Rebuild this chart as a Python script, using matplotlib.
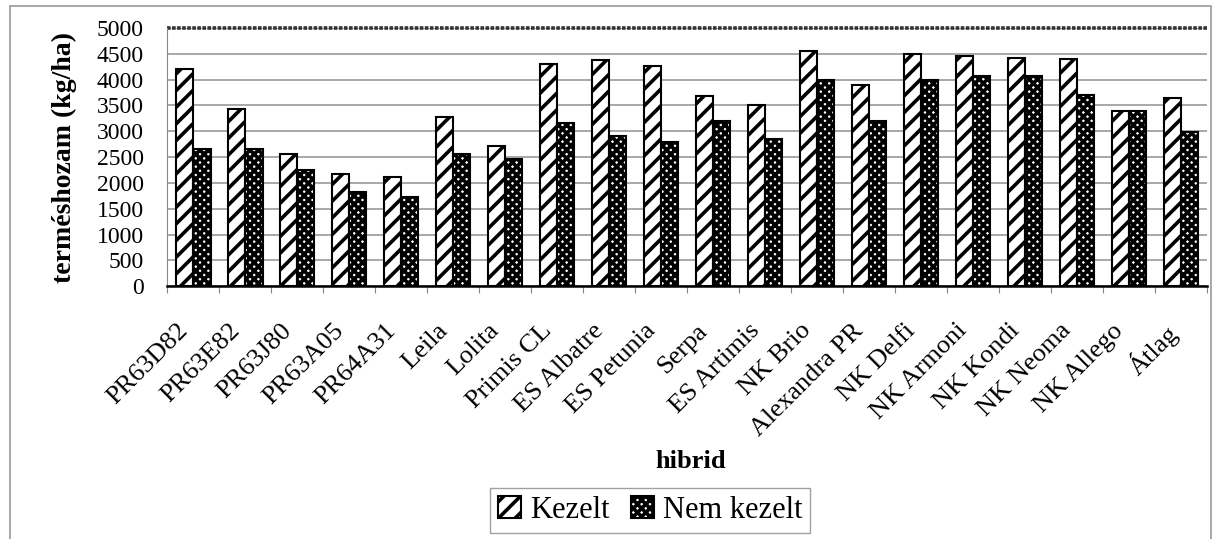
import numpy as np
import matplotlib.pyplot as plt
import matplotlib.transforms as mtransforms
from matplotlib.patches import Rectangle

plt.rcParams['font.family'] = ['Liberation Serif', 'DejaVu Serif']
plt.rcParams['hatch.linewidth'] = 2.6

# Adatok (leolvasva az ábráról)
hibridek = ['PR63D82', 'PR63E82', 'PR63J80', 'PR63A05', 'PR64A31', 'Leila', 'Lolita',
            'Primis CL', 'ES Albatre', 'ES Petunia', 'Serpa', 'ES Artimis', 'NK Brio',
            'Alexandra PR', 'NK Delfi', 'NK Armoni', 'NK Kondi', 'NK Neoma', 'NK Allego', 'Átlag']
kezelt = [4200, 3430, 2570, 2170, 2120, 3280, 2720, 4310, 4390, 4270,
          3680, 3500, 4560, 3890, 4490, 4460, 4410, 4400, 3400, 3650]
nem_kezelt = [2650, 2650, 2250, 1830, 1720, 2570, 2470, 3170, 2910, 2800,
              3200, 2860, 4000, 3190, 4000, 4070, 4070, 3700, 3400, 2990]
y_ticks = np.arange(0, 5001, 500)

fig = plt.figure(figsize=(12.13, 5.39), dpi=100)
ax = fig.add_axes([0.138, 0.469, 0.857, 0.479])

# keret az egész ábra körül
fig.patches.append(Rectangle((0.008, -0.01), 0.99, 0.999, transform=fig.transFigure,
                             fill=False, edgecolor='#999999', linewidth=1.2))

x = np.arange(len(hibridek))
w = 0.33
ax.bar(x - w / 2, kezelt, w, color='white', edgecolor='black', hatch='//',
       linewidth=1.5, label='Kezelt', zorder=3)
ax.bar(x + w / 2, nem_kezelt, w, color='white', edgecolor='black', hatch='xxxx',
       linewidth=1.5, label='Nem kezelt', zorder=3)

ax.set_xlim(-0.5, len(hibridek) - 0.5)
ax.set_ylim(0, 5000)
ax.set_yticks(y_ticks)
ax.tick_params(axis='y', labelsize=17, length=0, pad=17)
ax.set_xticks(x)
ax.set_xticklabels(hibridek, rotation=45, ha='right', rotation_mode='anchor', fontsize=19)
ax.tick_params(axis='x', which='major', length=0, pad=24)
offset = mtransforms.ScaledTranslation(-0.17, 0, fig.dpi_scale_trans)
for lbl in ax.get_xticklabels():
    lbl.set_transform(lbl.get_transform() + offset)
ax.set_xticks(np.arange(-0.5, len(hibridek)), minor=True)
ax.tick_params(axis='x', which='minor', length=5, width=0.8, color='#888888')

ax.grid(axis='y', color='#999999', linewidth=1.2, zorder=0)
for s in ['top', 'right']:
    ax.spines[s].set_visible(False)
ax.spines['left'].set_color('#888888')
ax.spines['bottom'].set_linewidth(1.8)
ax.axhline(5000, color='#333333', linewidth=2.6, linestyle=(0, (1, 0.4)),
           zorder=2, clip_on=False)

ax.set_ylabel('terméshozam (kg/ha)', fontsize=20, fontweight='bold', labelpad=14)
fig.text(0.569, 0.132, 'hibrid', fontsize=19, fontweight='bold', ha='center')

fig.legend(loc='center', bbox_to_anchor=(0.536, 0.053), ncol=2, fontsize=22,
           frameon=True, fancybox=False, edgecolor='#888888', handlelength=0.75,
           handleheight=0.75, handletextpad=0.3, columnspacing=0.7, borderpad=0.25)

fig.savefig('out.png', dpi=100)
